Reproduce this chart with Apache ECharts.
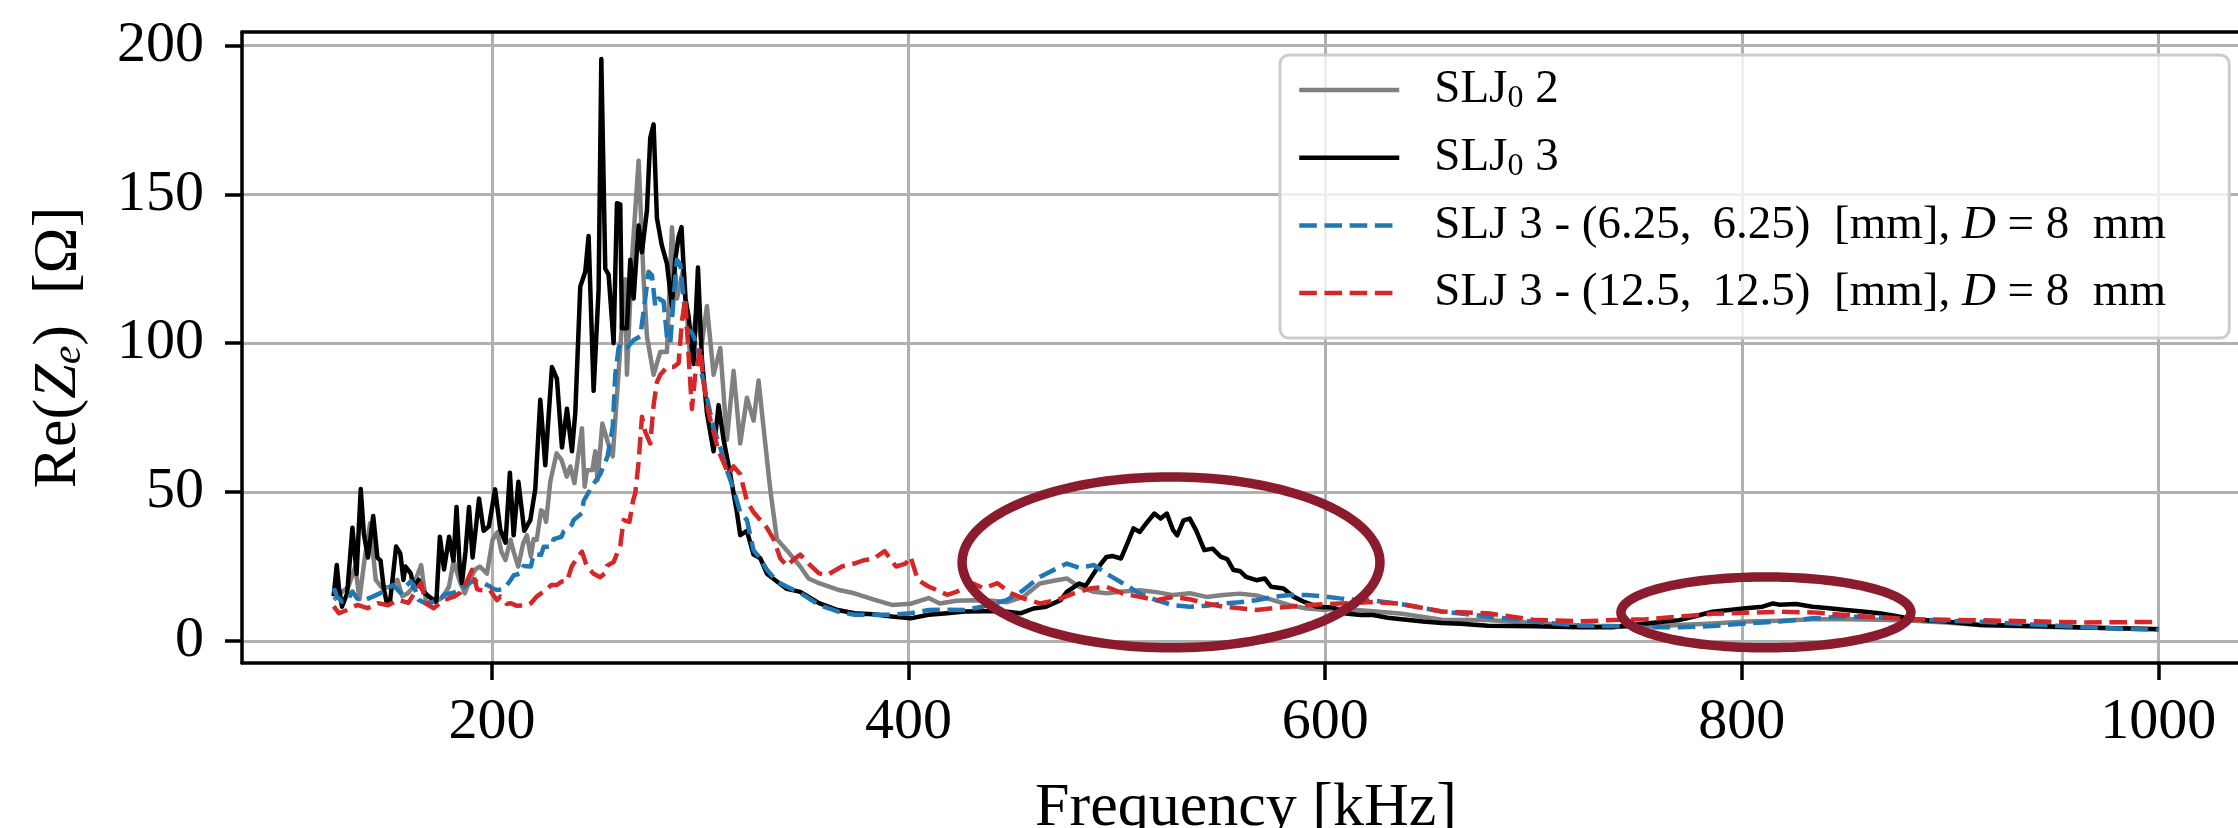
<!DOCTYPE html>
<html>
<head>
<meta charset="utf-8">
<script src="https://cdn.jsdelivr.net/npm/echarts@6/dist/echarts.min.js"></script>
<style>
html,body{margin:0;padding:0;background:#ffffff;}
#chart{width:2238px;height:828px;}
</style>
</head>
<body>
<div id="chart"></div>
<script>
// ---------------- data ----------------
const seriesNames = ['SLJ0 2', 'SLJ0 3', 'SLJ 3 - (6.25, 6.25) [mm], D = 8 mm', 'SLJ 3 - (12.5, 12.5) [mm], D = 8 mm'];

const xTickValues = [200, 400, 600, 800, 1000];
const yTickValues = [0, 50, 100, 150, 200];

// SLJ0 2 (grey)
const greyFreq = [124,126,128,131,134.4,136.4,138.8,141.5,144.2,147,150.9,154.6,157,159.6,162,166,168.5,172,175,177,179.4,181.6,184.5,187,189.3,192,194.2,197.6,200.3,202.6,204.5,206.5,208.9,210.4,212.6,215,216.8,218.7,220,221.5,223.6,224.8,226,228,231,233.4,235.9,237.6,239.6,242,243.2,244.5,245.6,248.2,249.6,250.7,253,255.5,258,261.6,264,264.8,267.2,270.4,272.8,274.4,277.6,280.8,284,286.4,288.8,292,295.2,298,300.8,303.2,306.4,309.6,312.8,316,319.2,322.4,325.6,328,330.4,333.6,336.8,341.6,348,352,357,366,374,383,392,401,409.6,415,423,431,440,447,455,463,471,476,482,489,495,503,511,519,527,535,543,551,559,567,575,583,591,599,607,615,623,636,656,678,700,722,744,754,770,786,802,818,834,850,866,882,898,914,942,965,1000];
const greyVal = [13.8,15,16.5,18,25,14,27.2,39.5,20.5,18,18,20.5,15,16,18,25.5,12.5,13.8,14,15.5,18.3,27,20,16,20.5,24,25,22.6,34,36.5,30,27.2,34,30,25,32.8,35.5,28.3,34.2,34,43.9,43.2,40,53.5,63,60.8,55.2,58.6,53,65.2,71.4,51.8,57.3,57.4,63.7,54,73,67,62,98.4,121.5,89.4,128,161.3,121.5,102.3,89.4,97.1,97,138.9,115,125.4,94.6,110,100,112.5,89.4,98.4,67.6,90.7,66.3,81.7,74,87.5,71.5,50.9,34.2,30.4,25,21,19.4,17.2,16,14,12.1,12.5,14.4,12.6,13.5,13.7,13.5,13,14.8,19.3,20.4,21,18.2,16.5,16,16.6,17,16.4,15.4,16,14.8,15.4,15.9,15.3,13.7,12,10.9,10.5,10.8,10.4,10,9.2,7.1,7,6,5.2,4.8,4.8,5.4,5.9,6.5,6.8,7.3,7.3,7.1,6.8,6.2,5.4,4.8,4.4,4];

// SLJ0 3 (black)
const blackFreq = [124,125.5,126.5,128,130.5,133,135,137,138.5,140.5,143,145,146.5,148,149.5,151,152,154,156,157.5,158.5,161,162.5,164.8,167,169.6,172,173.3,175,177,179.4,181.5,183,184.5,185.6,187.3,189,190.7,193.8,196,198.5,201.5,204,206.5,208.6,210.4,212.7,215.5,218.4,220.8,223.2,225.6,228.8,231.2,233.6,236,238.4,240,242.4,244.8,246.4,248.8,251.2,252.5,254.4,256,258.4,260,261.6,262.4,264.8,266.4,268,270.4,272,274.4,276,277.6,279.2,281.5,284,286.4,288,289.6,291,292.8,294.4,296.8,298.9,300.8,303.2,306.4,308.8,311.2,314.4,317.6,319.2,322.4,325.6,328.8,332,336.8,341.6,348,357,366,374,383,392,401,409.6,418.5,427,436,445,453.7,460,466,473,476,482,485,490,495,498,502,505,508,511,514,518,521,524,527,529,532,535,538,542,546,550,553,556,559,562,567,571,574,580,585,590,596,604,610,617,623,630,639,647,656,665,678,700,722,738,754,770,778,786,794,802,810,815,818,826,834,842,850,858,866,874,882,898,914,940,965,1000];
const blackVal = [15,25.5,18,11.5,16,38,22.5,51,36,28,42,28,27,18,12.7,13,19,31.7,29.4,20.5,25,22.7,18,20.5,16.6,15,13.8,13,35,24,35,27,45,25,19.4,30,45,28,47.8,37,38.4,50.9,37.4,33,56.5,35.5,53.5,37,40.6,51,81,59,92,88,65,78,63.7,76.6,119,124,136,84,118,195.4,125,123,100,147,146.6,105,105,128,115,139.5,130.5,144.6,169,173.5,142,133,126.7,112.5,128,135.7,139,115,109,93,125.4,94.6,76.6,63.7,79.2,67.6,56,43.2,35.5,37,29,27.8,22.6,20,17.5,16.5,12.7,10.4,9.3,9,8.2,7.6,8.8,9.3,9.9,10,10,9.3,10.9,11.5,13.7,16.5,19.3,18.5,23.8,28.2,28.5,27.7,32.7,37.8,36.6,39.4,42.8,41.1,42.8,37.2,35.5,40.5,41.1,37.2,30.5,31,28.2,27.5,23.8,23.5,21.5,20.4,21,18.2,17.6,14.8,13.1,11.5,11.2,9.2,8.7,8.7,7.8,7.1,6.5,6,5.8,5.1,4.9,4.6,4.6,5.9,7,8.4,9.8,10.4,11,11.5,12.6,12.2,12.4,11.5,11,10.4,9.9,9.3,8.4,7.3,6.5,5.4,5,4.5,3.9];

// SLJ 3 - (6.25, 6.25) (blue, dashed)
const blueFreq = [124,125.6,128,130.5,133,135.4,139,142.8,147.7,152.6,156,157.5,161,162.4,164.8,168.8,172,175.2,177,181.6,184,188,190.5,194.4,197,199.1,200.8,202.8,205.6,208,210.4,213.8,215.2,218.7,220,223.6,224.8,228.5,229.6,233.4,234.4,238.3,239.2,243.2,244,248.5,252,255.5,258,259.2,260.8,261.6,264.8,268,271.2,273.6,275.2,276.8,278.4,280,282.4,284,285.6,287.2,288.8,290.4,292,293.6,296,298.4,300.8,303.2,306.4,309.6,312.8,316,319.2,322.4,325.6,328.8,332,336.8,341.6,348,357,366,374,383,392,401,409.6,418.5,427,436,447,455,463,471,476,482,489,495,503,511,519,527,535,543,551,559,567,575,583,591,599,607,615,623,639,656,678,700,722,738,754,770,786,802,818,834,850,866,882,898,914,940,965,1000];
const blueVal = [17.7,14.9,13.2,13.5,16.6,14.2,13.8,14.9,16.5,18.8,16.2,17.5,20,18.8,13.8,12.4,13.2,13.7,15.5,16.2,17,18.8,20,20,19,18.3,17.5,17.1,17.5,19.5,22,22.7,25.2,25,29.1,28.9,31.6,31.7,34.2,35,36.8,39,40.6,42.9,47,52.5,56,62,72,89.4,98.4,99.7,98.5,101,102.3,115,124,122.8,112.5,115,114,102.3,100,115,128,126.5,115,104.8,103.5,99.7,89.4,81.7,71.4,65,57.3,50.9,43.2,40.6,30.4,27.8,23.9,20,18.2,16.1,12.1,9.9,8.8,8.8,8.8,9.3,10.4,10.5,10.4,11.6,13.7,17,21.5,24.3,26,24.5,25.5,22.6,19.3,15.9,13.7,12,11.5,11.8,12.6,13,13.7,14.8,15.4,15.4,15,14.3,13.8,13.6,12.1,9.9,8.2,6.5,5.2,5,4.6,4.6,5,5.9,6.5,7.6,8.2,8,7.3,6.8,6.5,5.5,4.6,3.7];

// SLJ 3 - (12.5, 12.5) (red, dashed)
const redFreq = [124,126.6,130.5,135.4,140.3,145.2,150.1,155,159.9,163.6,166,168.5,172,177,181.9,184.8,186.8,189.6,190.5,192.8,194.2,197.6,199.1,202.4,204,207.2,208.9,212,216.8,218.7,221.6,223.6,226.4,228.5,231.2,233.4,236,238.3,240.8,243.2,245.6,248.8,252,254.2,255.2,258.4,261.6,263.2,266,267.8,268.8,270.4,272,273.6,276,277.6,279.2,280.8,284,287.2,289.6,291.2,292.8,294.4,296,297.6,300,301.6,304,306.4,308.8,311.2,313.6,316,319.2,322.4,325.6,328.8,332,335.2,338.4,341.6,345,348,352,357,361,368,374,379,383,388.5,394,398.6,401,404.4,409.6,418.5,423,431,436,442.7,449.3,455,463,471,479,487,495,503,511,519,527,535,543,551,559,567,575,583,591,599,607,615,623,636,656,678,700,722,738,754,770,786,802,818,834,850,866,882,898,920,964,1000];
const redVal = [11.6,9.3,10.4,12.1,11,12.7,12,13.8,12.8,17.1,19.4,12.5,11,13.8,14.9,16.2,18.3,22.6,23.9,17.5,17.1,17,17,13.7,14.9,12.4,12.7,11.8,12,12.7,15,16,17.5,18.8,18.8,20,20,25,27.8,30,25,22.6,21.4,22.7,25.2,26.5,32,40.6,40,47.3,49.6,60,75.3,70.2,66.3,79.2,86.9,89.4,92,92,93.3,107.4,115,95.8,77.9,89.4,98.4,86.9,76.6,70.2,63.7,59.9,56,58.6,56,47,43.2,40.6,38,34.2,27.8,25.2,27.5,29,26,22.7,22.2,25,26,27.2,27.5,30.2,25,26,28.3,20.5,18.3,15.5,16.5,19.3,17.7,19.4,16,14.3,12.6,13.7,15.9,17.6,18.2,15.9,14.8,13.7,14.8,14,12.6,11.5,11,10.4,11,11.5,12,12.3,12.6,12.8,13.1,12.5,9.9,9.3,7.1,6.6,7,7.3,8.2,9.1,9.5,9.8,9.6,8.7,7.9,7.3,7.1,6.9,6.2,6.4];

// highlight ellipses (annotation, data coordinates): centre freq, centre value, half-width (kHz), half-height (Ω)
const ellipseCenterFreq = [526, 811.6];
const ellipseCenterVal = [26.4, 9.6];
const ellipseHalfFreq = [100.3, 69.6];
const ellipseHalfVal = [28.7, 11.9];

// ---------------- chart ----------------
const FONT = '"Liberation Serif", "Times New Roman", serif';
const zip = (xs, ys) => xs.map((x, i) => [x, ys[i]]);

const legendRich = {
  'SLJ0 2': '{g| }SLJ{sub|0} 2',
  'SLJ0 3': '{g| }SLJ{sub|0} 3',
  'SLJ 3 - (6.25, 6.25) [mm], D = 8 mm': '{g| }SLJ 3 - (6.25,\u2009 6.25)  [mm], {it|D} = 8  mm',
  'SLJ 3 - (12.5, 12.5) [mm], D = 8 mm': '{g| }SLJ 3 - (12.5,\u2009 12.5)  [mm], {it|D} = 8  mm'
};

const chart = echarts.init(document.getElementById('chart'), null, {renderer: 'canvas'});

const lineDefs = [
  {name: seriesNames[0], data: zip(greyFreq, greyVal), color: '#808080', type: 'solid'},
  {name: seriesNames[1], data: zip(blackFreq, blackVal), color: '#000000', type: 'solid'},
  {name: seriesNames[2], data: zip(blueFreq, blueVal), color: '#1f77b4', type: [17.6, 7.6]},
  {name: seriesNames[3], data: zip(redFreq, redVal), color: '#d62728', type: [17.6, 7.6]}
];

const series = lineDefs.map((d, i) => ({
  type: 'line',
  name: d.name,
  data: d.data,
  symbol: 'none',
  showSymbol: false,
  smooth: false,
  clip: true,
  z: 2 + i,
  color: d.color,
  itemStyle: {color: d.color},
  lineStyle: {color: d.color, width: 4.5, type: d.type, cap: 'butt', join: 'round'}
}));

series.push({
  type: 'custom',
  name: 'highlight',
  coordinateSystem: 'cartesian2d',
  silent: true,
  clip: false,
  z: 20,
  data: ellipseCenterFreq.map((f, i) => [f, ellipseCenterVal[i], ellipseHalfFreq[i], ellipseHalfVal[i]]),
  encode: {x: 0, y: 1},
  renderItem: function (params, api) {
    const c = api.coord([api.value(0), api.value(1)]);
    const s = api.size([api.value(2), api.value(3)]);
    const pts = [];
    const n = 160;
    for (let k = 0; k < n; k++) {
      const t = k / n * Math.PI * 2;
      pts.push([c[0] + s[0] * Math.cos(t), c[1] + s[1] * Math.sin(t)]);
    }
    return {
      type: 'polygon',
      shape: {points: pts},
      style: {fill: 'none', stroke: '#8b1c2e', lineWidth: 9.5}
    };
  }
});

const option = {
  animation: false,
  backgroundColor: '#ffffff',
  grid: {left: 242, top: 32, width: 2008, height: 631, containLabel: false, outerBoundsMode: 'none'},
  xAxis: [
    {
      type: 'value', min: 80, max: 1044, position: 'bottom',
      name: 'Frequency [kHz]', nameLocation: 'middle', nameGap: 115,
      nameTextStyle: {fontFamily: FONT, fontSize: 62, color: '#000', lineHeight: 62},
      axisLine: {show: true, onZero: false, lineStyle: {color: '#000', width: 3.5}},
      axisTick: {show: true, inside: false, length: 17, customValues: xTickValues, lineStyle: {color: '#000', width: 3.5}},
      axisLabel: {show: true, customValues: xTickValues, formatter: v => String(v), fontFamily: FONT, fontSize: 58, color: '#000', margin: 31, lineHeight: 58},
      splitLine: {show: true, lineStyle: {color: '#b0b0b0', width: 3}}
    },
    {
      type: 'value', min: 80, max: 1044, position: 'top',
      axisLine: {show: true, onZero: false, lineStyle: {color: '#000', width: 3.5}},
      axisTick: {show: false}, axisLabel: {show: false}, splitLine: {show: false}
    }
  ],
  yAxis: [
    {
      type: 'value', min: -7.4, max: 204.5, position: 'left',
      name: 'Re({it|Z}{sub|e})  [Ω]', nameLocation: 'middle', nameGap: 152, nameRotate: 90,
      nameTextStyle: {
        fontFamily: FONT, fontSize: 62, color: '#000', lineHeight: 62,
        rich: {
          it: {fontFamily: FONT, fontSize: 62, fontStyle: 'italic', color: '#000', lineHeight: 62},
          sub: {fontFamily: FONT, fontSize: 42, fontStyle: 'italic', color: '#000', lineHeight: 36, verticalAlign: 'bottom'}
        }
      },
      axisLine: {show: true, onZero: false, lineStyle: {color: '#000', width: 3.5}},
      axisTick: {show: true, inside: false, length: 17, customValues: yTickValues, lineStyle: {color: '#000', width: 3.5}},
      axisLabel: {show: true, customValues: yTickValues, formatter: v => String(v), fontFamily: FONT, fontSize: 58, color: '#000', margin: 38},
      splitLine: {show: true, lineStyle: {color: '#b0b0b0', width: 3}}
    }
  ],
  legend: {
    show: true,
    data: seriesNames,
    orient: 'vertical',
    left: 1280, top: 55,
    padding: [10, 22, 20, 17],
    itemGap: 17.7,
    itemWidth: 100,
    itemHeight: 14,
    backgroundColor: 'rgba(255,255,255,0.8)',
    borderColor: '#cccccc',
    borderWidth: 3,
    borderRadius: 9,
    selectedMode: false,
    lineStyle: {width: 4.5},
    itemStyle: {opacity: 0, borderWidth: 0},
    formatter: function (name) { return legendRich[name] || name; },
    textStyle: {
      fontFamily: FONT, fontSize: 47, color: '#000', lineHeight: 50, width: 803,
      rich: {
        g: {width: 30, fontSize: 47, fontFamily: FONT, lineHeight: 50},
        sub: {fontSize: 32, fontFamily: FONT, color: '#000', lineHeight: 30, verticalAlign: 'bottom'},
        it: {fontSize: 47, fontFamily: FONT, fontStyle: 'italic', color: '#000', lineHeight: 50}
      }
    }
  },
  series: series
};

chart.setOption(option);
</script>
</body>
</html>
